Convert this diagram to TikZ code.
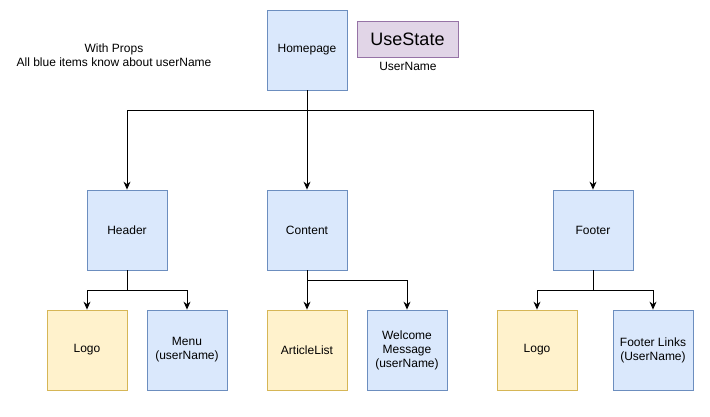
\documentclass[tikz,border=0pt]{standalone}
\usepackage{fontspec}
\setmainfont{Liberation Sans}
\usetikzlibrary{arrows.meta}
\definecolor{bfill}{HTML}{DAE8FC}
\definecolor{bdraw}{HTML}{6C8EBF}
\definecolor{yfill}{HTML}{FFF2CC}
\definecolor{ydraw}{HTML}{D6B656}
\definecolor{pfill}{HTML}{E1D5E7}
\definecolor{pdraw}{HTML}{9673A6}
\begin{document}
\begin{tikzpicture}[x=1pt,y=-1pt,
  base/.style={minimum width=80pt,minimum height=80pt,inner sep=0pt,align=center,line width=0.8pt,font=\fontsize{12}{14}\selectfont},
  bluebox/.style={base,fill=bfill,draw=bdraw},
  yellowbox/.style={base,fill=yfill,draw=ydraw},
  purplebox/.style={minimum width=101pt,minimum height=36pt,inner sep=0pt,fill=pfill,draw=pdraw,line width=0.8pt,font=\fontsize{18}{20}\selectfont},
  lbl/.style={inner sep=0pt,align=center,font=\fontsize{12}{14}\selectfont},
  conn/.style={draw=black,line width=1pt,-{Stealth[length=8pt,width=7pt]}},
  plain/.style={draw=black,line width=1pt}]
\useasboundingbox (0,0) rectangle (710,416);
\node[bluebox] (home) at (307,50) {Homepage};
\node[purplebox] (state) at (407.5,39) {UseState};
\node[lbl] (statelbl) at (408,66) {UserName};
\node[lbl] (note) at (114,55.5) {With Props\\All blue items know about userName};
\node[bluebox] (header) at (127,230) {Header};
\node[bluebox] (content) at (307,230) {Content};
\node[bluebox] (footer) at (593,230) {Footer};
\node[yellowbox] (logo1) at (87,350) {Logo};
\node[bluebox] (menu) at (187,350) {Menu\\(userName)};
\node[yellowbox] (article) at (307,350) {ArticleList};
\node[bluebox] (welcome) at (407,350) {Welcome\\Message\\(userName)};
\node[yellowbox] (logo2) at (537,350) {Logo};
\node[bluebox] (links) at (653,350) {Footer Links\\(UserName)};
\coordinate (hb) at (307,110);
\coordinate (hdb) at (127,290);
\coordinate (cb) at (307,280);
\coordinate (fb) at (593,290);
\draw[conn] (home.south) |- (hb) -| (header.north);
\draw[conn] (home.south) -- (content.north);
\draw[conn] (home.south) |- (hb) -| (footer.north);
\draw[conn] (header.south) |- (hdb) -| (logo1.north);
\draw[conn] (header.south) |- (hdb) -| (menu.north);
\draw[conn] (content.south) -- (article.north);
\draw[conn] (content.south) |- (cb) -| (welcome.north);
\draw[conn] (footer.south) |- (fb) -| (logo2.north);
\draw[conn] (footer.south) |- (fb) -| (links.north);
\end{tikzpicture}
\end{document}
